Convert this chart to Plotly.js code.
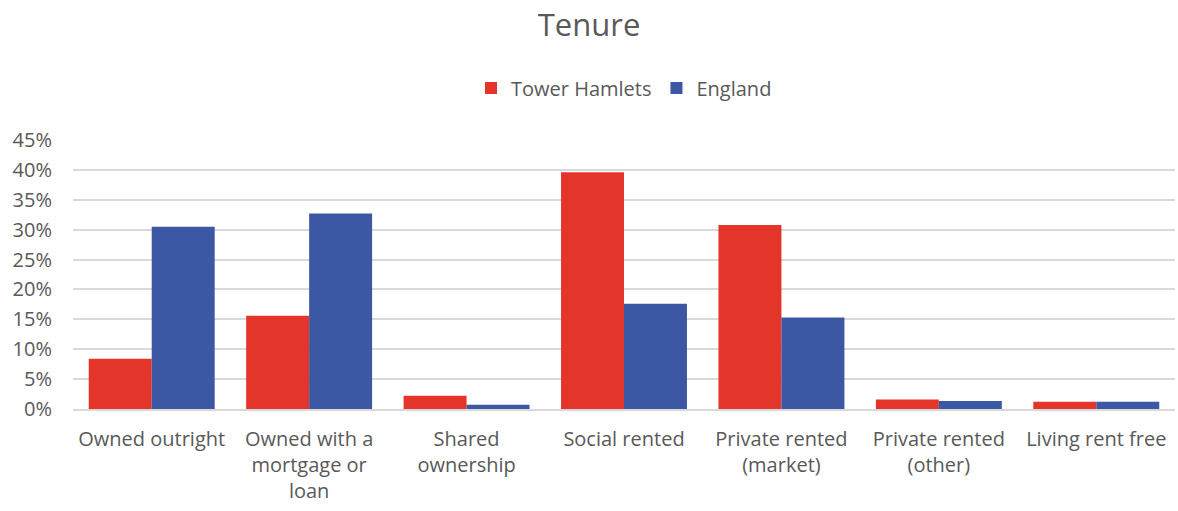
<!DOCTYPE html>
<html>
<head>
<meta charset="utf-8">
<script src="https://cdn.plot.ly/plotly-3.0.1.min.js"></script>
<style>
html,body{margin:0;padding:0;background:#fff;}
#chart{width:1178px;height:511px;}
</style>
</head>
<body>
<div id="chart"></div>
<script>
const categories = [
  "Owned outright",
  "Owned with a<br>mortgage or<br>loan",
  "Shared<br>ownership",
  "Social rented",
  "Private rented<br>(market)",
  "Private rented<br>(other)",
  "Living rent free"
];
const towerHamlets = [8.4, 15.6, 2.2, 39.6, 30.8, 1.6, 1.2];
const england = [30.5, 32.7, 0.7, 17.6, 15.3, 1.35, 1.2];
const seriesNames = ["Tower Hamlets", "England"];
const yTicks = [0, 5, 10, 15, 20, 25, 30, 35, 40, 45];

const textColor = "#595959";
const fontFamily = "'Open Sans', 'Noto Sans', sans-serif";

const traces = [
  {type: "bar", name: seriesNames[0], x: categories, y: towerHamlets,
   marker: {color: "#E4352A"}, hoverinfo: "y+name"},
  {type: "bar", name: seriesNames[1], x: categories, y: england,
   marker: {color: "#3C58A4"}, hoverinfo: "y+name"}
];

const layout = {
  width: 1178, height: 511,
  margin: {l: 73, r: 3, t: 140, b: 102},
  paper_bgcolor: "#fff", plot_bgcolor: "#fff",
  font: {family: fontFamily, color: textColor, size: 20},
  title: {text: "Tenure", x: 0.5, xanchor: "center", y: 0.95, yanchor: "middle",
          font: {size: 31, color: textColor, family: fontFamily}},
  barmode: "group",
  bargap: 0.2,
  bargroupgap: 0,
  showlegend: true,
  legend: {orientation: "h", x: 0.5, xanchor: "center", y: 1.193, yanchor: "middle",
           font: {size: 20, color: textColor}, traceorder: "normal"},
  xaxis: {type: "category", showgrid: false, zeroline: false,
          showline: true, linecolor: "#D9D9D9", linewidth: 2,
          tickfont: {size: 20, color: textColor}, ticks: "", ticklabelstandoff: 11,
          automargin: false},
  yaxis: {range: [0, 45], tickvals: yTicks, ticktext: yTicks.map(v => v + "%"),
          showgrid: true, gridcolor: "#D9D9D9", gridwidth: 2, zeroline: false,
          showline: false, ticks: "", ticklabelstandoff: 20,
          tickfont: {size: 20, color: textColor}, automargin: false, fixedrange: true}
};

Plotly.newPlot("chart", traces, layout, {displayModeBar: false, staticPlot: true});
</script>
</body>
</html>
